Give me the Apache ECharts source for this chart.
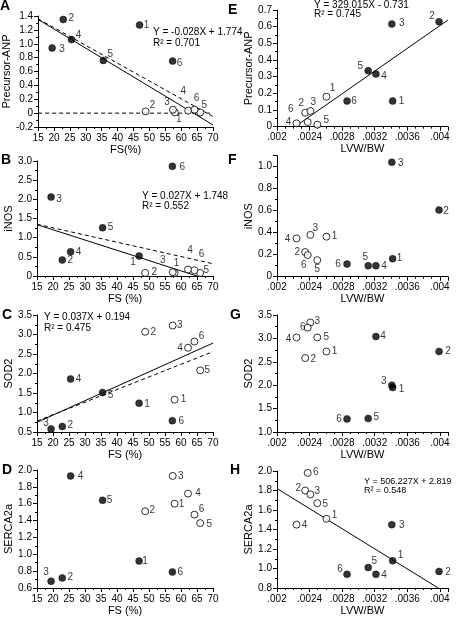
<!DOCTYPE html>
<html><head><meta charset="utf-8">
<script src="https://cdn.jsdelivr.net/npm/echarts@6/dist/echarts.min.js"></script>
<style>html,body{margin:0;padding:0;background:#fff}#c{width:457px;height:617px}</style>
</head><body><div id="c"></div><script>
// ---- data (ids 1..6 for each group) ----
const POINT_IDS = ['1','2','3','4','5','6'];
const FS_FILLED = [46.9, 22.9, 19.4, 25.5, 35.5, 57.3];
const FS_OPEN   = [58.0, 48.8, 57.4, 62.2, 66.0, 64.2];
const LV_FILLED = [0.00342, 0.00399, 0.00341, 0.003215, 0.00312, 0.00286];
const LV_OPEN   = [0.002607, 0.002346, 0.00241, 0.00224, 0.002495, 0.002377];

const ANP_FS_FILLED = [1.27, 1.35, 0.94, 1.06, 0.76, 0.75];
const ANP_FS_OPEN   = [0.01, 0.025, 0.05, 0.035, 0.01, 0.05];
const ANP_LV_FILLED = [0.154, 0.63, 0.616, 0.316, 0.336, 0.154];
const ANP_LV_OPEN   = [0.18, 0.084, 0.094, 0.02, 0.012, 0.028];
const INOS_FS_FILLED = [0.52, 0.42, 2.06, 0.63, 1.26, 2.86];
const INOS_FS_OPEN   = [0.08, 0.08, 0.10, 0.17, 0.08, 0.15];
const INOS_LV_FILLED = [0.164, 0.606, 1.04, 0.10, 0.10, 0.115];
const INOS_LV_OPEN   = [0.364, 0.224, 0.38, 0.348, 0.15, 0.197];
const SOD_FS_FILLED = [1.24, 0.64, 0.58, 1.86, 1.51, 0.79];
const SOD_FS_OPEN   = [1.33, 3.07, 3.23, 2.66, 2.08, 2.82];
const SOD_LV_FILLED = [1.95, 2.72, 2.0, 3.04, 1.29, 1.28];
const SOD_LV_OPEN   = [2.72, 2.58, 3.34, 3.02, 3.02, 3.23];
const SERCA_FS_FILLED = [0.92, 0.72, 0.68, 1.93, 1.64, 0.79];
const SERCA_FS_OPEN   = [1.6, 1.51, 1.93, 1.72, 1.37, 1.47];
const SERCA_LV_FILLED = [1.08, 0.97, 1.45, 0.94, 1.01, 0.94];
const SERCA_LV_OPEN   = [1.51, 1.80, 1.76, 1.45, 1.67, 1.98];

// fitted lines (end points)
const FIT_A_SOLID  = [[15, 1.35], [70, -0.17]];
const FIT_A_DASHED = [[15, 1.36], [70, -0.05]];
const FIT_A_ZERO   = [[15, 0], [70, 0]];
const FIT_B_SOLID  = [[15, 1.34], [65, 0]];
const FIT_B_DASHED = [[15, 1.35], [70, 0.32]];
const FIT_C_SOLID  = [[15, 0.75], [70, 2.78]];
const FIT_C_DASHED = [[15, 0.78], [70, 2.56]];
const FIT_E_SOLID  = [[0.00222, 0], [0.0041, 0.64]];
const FIT_H_SOLID  = [[0.002, 1.82], [0.00398, 0.8]];

const EQUATIONS = {
  A: ['Y = -0.028X + 1.774', 'R\u00b2 = 0.701'],
  B: ['Y = 0.027X + 1.748', 'R\u00b2 = 0.552'],
  C: ['Y = 0.037X + 0.194', 'R\u00b2 = 0.475'],
  E: ['Y = 329.015X - 0.731', 'R\u00b2 = 0.745'],
  H: ['Y = 506.227X + 2.819', 'R\u00b2 = 0.548']
};

// ---- style: label offsets [dx,dy] in px for ids 1..6 ----
const LBL = {
  A: {f: [[7,0],[8,-1],[10,1],[7,-4],[7,-6],[7,2]], o: [[4,7],[7,-6],[-6,-7],[-5,-19],[4,-7],[2,-11]]},
  E: {f: [[9,0],[-7,-5],[10,-1],[8,2],[-8,-4],[7,0]], o: [[6,-8],[-4,-9],[3,-9],[-8,-1],[9,-4],[-17,-13]]},
  B: {f: [[-6,6],[8,0],[8,2],[8,0],[8,0],[10,1]], o: [[2,-10],[9,-1],[-10,-12],[2,-19],[6,-3],[7,-16]]},
  F: {f: [[7,0],[7,1],[9,1],[8,1],[-3,-8],[-9,0]], o: [[8,0],[-8,0],[5,-7],[-9,1],[0,9],[-4,10]]},
  C: {f: [[8,1],[8,-1],[-5,-6],[8,0],[8,3],[9,1]], o: [[9,0],[8,0],[7,0],[-8,0],[7,0],[7,-5]]},
  G: {f: [[9,2],[9,0],[-8,-4],[7,0],[8,-1],[-8,0]], o: [[8,0],[8,1],[7,-1],[-8,2],[9,0],[-5,0]]},
  D: {f: [[6,0],[8,-1],[-5,-9],[10,0],[7,0],[8,0]], o: [[7,1],[7,-1],[8,0],[10,0],[9,1],[7,-5]]},
  H: {f: [[8,-5],[9,1],[10,1],[8,1],[6,-6],[-7,-5]], o: [[8,-4],[-7,-2],[7,-3],[8,1],[8,1],[8,-1]]}
};

const FONT = '"Liberation Sans", Arial, sans-serif';
const LEFT = {left: 37, width: 176};
const RIGHT = {left: 277, width: 171};

const panels = [
  {k:'A', g:{...LEFT, top:16, height:111}, xt:'fs', xName:'FS(%)', yName:'Precursor-ANP', y:{min:-0.2,max:1.4,interval:0.2},
   xf:FS_FILLED, xo:FS_OPEN, yf:ANP_FS_FILLED, yo:ANP_FS_OPEN, lines:[[FIT_A_SOLID,'solid'],[FIT_A_DASHED,'dashed'],[FIT_A_ZERO,'dashed']]},
  {k:'E', g:{...RIGHT, top:10, height:116.7}, xt:'lv', xName:'LVW/BW', yName:'Precursor-ANP', y:{min:0,max:0.7,interval:0.1},
   xf:LV_FILLED, xo:LV_OPEN, yf:ANP_LV_FILLED, yo:ANP_LV_OPEN, lines:[[FIT_E_SOLID,'solid']]},
  {k:'B', g:{...LEFT, top:161, height:115}, xt:'fs', xName:'FS (%)', yName:'iNOS', y:{min:0,max:3.0,interval:0.5},
   xf:FS_FILLED, xo:FS_OPEN, yf:INOS_FS_FILLED, yo:INOS_FS_OPEN, lines:[[FIT_B_SOLID,'solid'],[FIT_B_DASHED,'dashed']]},
  {k:'F', g:{...RIGHT, top:155.7, height:121}, xt:'lv', xName:'LVW/BW', yName:'iNOS', y:{min:0,max:1.1,interval:0.2},
   xf:LV_FILLED, xo:LV_OPEN, yf:INOS_LV_FILLED, yo:INOS_LV_OPEN, lines:[]},
  {k:'C', g:{...LEFT, top:315, height:117}, xt:'fs', xName:'FS (%)', yName:'SOD2', y:{min:0.5,max:3.5,interval:0.5},
   xf:FS_FILLED, xo:FS_OPEN, yf:SOD_FS_FILLED, yo:SOD_FS_OPEN, lines:[[FIT_C_SOLID,'solid'],[FIT_C_DASHED,'dashed']]},
  {k:'G', g:{...RIGHT, top:315, height:117}, xt:'lv', xName:'LVW/BW', yName:'SOD2', y:{min:1.0,max:3.5,interval:0.5},
   xf:LV_FILLED, xo:LV_OPEN, yf:SOD_LV_FILLED, yo:SOD_LV_OPEN, lines:[]},
  {k:'D', g:{...LEFT, top:470, height:120}, xt:'fs', xName:'FS (%)', yName:'SERCA2a', y:{min:0.6,max:2.0,interval:0.2},
   xf:FS_FILLED, xo:FS_OPEN, yf:SERCA_FS_FILLED, yo:SERCA_FS_OPEN, lines:[]},
  {k:'H', g:{...RIGHT, top:471, height:119}, xt:'lv', xName:'LVW/BW', yName:'SERCA2a', y:{min:0.8,max:2.0,interval:0.2},
   xf:LV_FILLED, xo:LV_OPEN, yf:SERCA_LV_FILLED, yo:SERCA_LV_OPEN, lines:[[FIT_H_SOLID,'solid']]}
];

const axisCommon = {
  axisLine: {show:true, onZero:false, lineStyle:{color:'#000', width:1}},
  axisTick: {show:true, length:4, lineStyle:{color:'#000'}},
  minorTick: {show:true, splitNumber:2, length:2, lineStyle:{color:'#000'}},
  splitLine: {show:false}, minorSplitLine:{show:false},
  axisLabel: {color:'#000', fontSize:10, fontFamily:FONT},
  nameTextStyle: {color:'#000', fontSize:11, fontFamily:FONT}
};

function lvFmt(v) {
  const r = v / 0.0004;
  if (Math.abs(r - Math.round(r)) > 1e-6) return '';
  return String(+v.toFixed(4)).replace(/^0\./, '.');
}

const grid = [], xAxis = [], yAxis = [], series = [], graphic = [];
panels.forEach((p, i) => {
  grid.push({left:p.g.left, top:p.g.top, width:p.g.width, height:p.g.height, containLabel:false});
  if (p.xt === 'fs') {
    xAxis.push({...axisCommon, type:'value', gridIndex:i, min:15, max:70, interval:5,
      axisLabel:{...axisCommon.axisLabel, margin:6},
      name:p.xName, nameLocation:'middle', nameGap:17});
  } else {
    xAxis.push({...axisCommon, type:'value', gridIndex:i, min:0.002, max:0.0041, interval:0.0004,
      minorTick:{...axisCommon.minorTick, splitNumber:4},
      axisLabel:{...axisCommon.axisLabel, margin:6, formatter:lvFmt, showMaxLabel:false},
      name:p.xName, nameLocation:'middle', nameGap:17});
  }
  yAxis.push({...axisCommon, type:'value', gridIndex:i, min:p.y.min, max:p.y.max, interval:p.y.interval,
    axisLabel:{...axisCommon.axisLabel, margin:5, showMaxLabel: !(p.k==='F'),
      formatter: v => { const r = v / p.y.interval; if (Math.abs(r-Math.round(r))>1e-6) return ''; return Math.abs(v)<1e-9 ? '0' : v.toFixed(1); }},
    name:p.yName, nameLocation:'middle', nameGap:22});

  p.lines.forEach(([pts, type]) => {
    series.push({type:'line', xAxisIndex:i, yAxisIndex:i, data:pts, showSymbol:false, symbol:'none', silent:true, z:3,
      lineStyle:{color:'#000', width:1, type: type==='dashed' ? [4,3] : 'solid'}});
  });
  const mk = (xs, ys, offs, filled) => ({
    type:'scatter', xAxisIndex:i, yAxisIndex:i, symbol:'circle', symbolSize:7, z:4,
    itemStyle: filled ? {color:'#000', borderColor:'#000', borderWidth:0.5} : {color:'#fff', borderColor:'#000', borderWidth:1},
    data: xs.map((x, j) => ({value:[x, ys[j]], name:POINT_IDS[j],
      label:{show:true, position:'inside', offset:offs[j], formatter:POINT_IDS[j], color:'#000',
        fontSize:10, fontFamily:FONT, align:'center', verticalAlign:'middle'}}))
  });
  series.push(mk(p.xf, p.yf, LBL[p.k].f, true));
  series.push(mk(p.xo, p.yo, LBL[p.k].o, false));
});

// panel letters
const LETTERS = [['A',0,6],['B',1,160],['C',2,315],['D',2,470],['E',228,10],['F',228,160],['G',230,315],['H',230,470]];
LETTERS.forEach(([t, x, cy]) => graphic.push({type:'text', left:x, top:cy-7,
  style:{text:t, font:'bold 14px ' + FONT, fill:'#000'}}));
// equation texts
const EQ_POS = {A:[153,33,44,10], B:[142,197,207,10], C:[44,318,329,10], E:[314,6,15,10], H:[364,483,492,9]};
Object.keys(EQ_POS).forEach(k => {
  const [x, y1, y2, fs] = EQ_POS[k];
  graphic.push({type:'text', left:x, top:y1-6, style:{text:EQUATIONS[k][0], font:fs + 'px ' + FONT, fill:'#000'}});
  graphic.push({type:'text', left:x, top:y2-6, style:{text:EQUATIONS[k][1], font:fs + 'px ' + FONT, fill:'#000'}});
});

const chart = echarts.init(document.getElementById('c'), null, {renderer:'canvas'});
chart.setOption({animation:false, backgroundColor:'#fff', grid, xAxis, yAxis, series, graphic});
</script></body></html>
